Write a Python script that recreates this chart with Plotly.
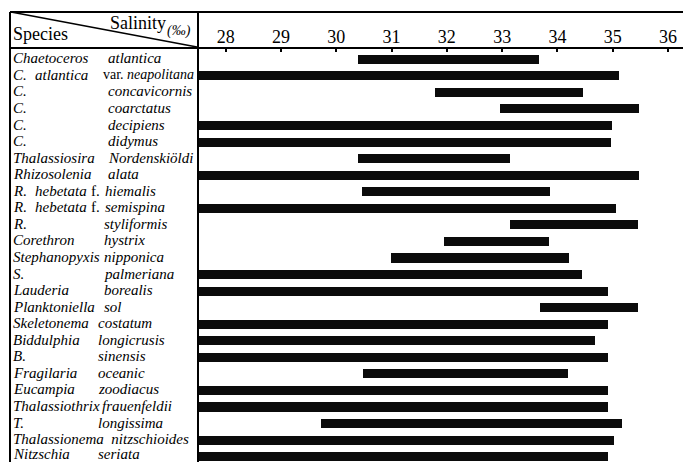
import plotly.graph_objects as go

# ---------------- data ----------------
genus = ["Chaetoceros", "C.", "C.", "C.", "C.", "C.", "Thalassiosira", "Rhizosolenia",
         "R.", "R.", "R.", "Corethron", "Stephanopyxis", "S.", "Lauderia", "Planktoniella",
         "Skeletonema", "Biddulphia", "B.", "Fragilaria", "Eucampia", "Thalassiothrix",
         "T.", "Thalassionema", "Nitzschia"]
epithet = ["atlantica", "atlantica var. neapolitana", "concavicornis", "coarctatus", "decipiens",
           "didymus", "Nordenskiöldi", "alata", "hebetata f. hiemalis", "hebetata f. semispina",
           "styliformis", "hystrix", "nipponica", "palmeriana", "borealis", "sol",
           "costatum", "longicrusis", "sinensis", "oceanic", "zoodiacus", "frauenfeldii",
           "longissima", "nitzschioides", "seriata"]
# salinity range (‰) where each species occurs; 27.5 = extends beyond left edge of scale
sal_min = [30.40, 27.5, 31.78, 32.96, 27.5, 27.5, 30.40, 27.5,
           30.46, 27.5, 33.14, 31.95, 30.99, 27.5, 27.5, 33.68,
           27.5, 27.5, 27.5, 30.48, 27.5, 27.5, 29.72, 27.5, 27.5]
sal_max = [33.66, 35.12, 34.47, 35.48, 34.99, 34.96, 33.14, 35.47,
           33.86, 35.05, 35.46, 33.85, 34.20, 34.44, 34.92, 35.46,
           34.92, 34.67, 34.92, 34.19, 34.92, 34.92, 35.17, 35.02, 34.92]
tick_vals = [28, 29, 30, 31, 32, 33, 34, 35, 36]
tick_text = ["28", "29", "30", "31", "32", "33", "34", "35", "36"]

# ---------------- layout geometry (page pixels) ----------------
W, H = 683, 462
L, T = 198, 48
PW, PH = W - L, H - T
# left edge (px) of the second text column of each row (None = one combined label)
epithet_x = [106, 33, 106, 106, 106, 106, 106, 106,
             33, 33, 102, 102, 102, 102, 102, 102,
             96, 96, 96, 96, 96, 100, 96, None, 96]


def px(x):
    return (x - L) / PW


def py(y):
    return (H - y) / PH


rows = list(range(len(genus)))

fig = go.Figure()
fig.add_trace(go.Bar(
    y=rows,
    x=[b - a for a, b in zip(sal_min, sal_max)],
    base=sal_min,
    orientation="h",
    width=0.55,
    marker=dict(color="#0b0b0b", line=dict(width=0)),
    hoverinfo="skip",
    showlegend=False,
))

serif = "Liberation Serif, Times New Roman, serif"
annotations = []
last = len(genus) - 1


def lab(x, i, text, size=15, anchor="left"):
    annotations.append(dict(x=px(x), y=i, xref="paper", yref="y", xanchor=anchor,
                            yanchor="middle", showarrow=False, text=text,
                            yshift=3 if i == last else 1,
                            font=dict(family=serif, size=size, color="black")))


for i, (g, e) in enumerate(zip(genus, epithet)):
    if epithet_x[i] is None:
        lab(11, i, "<i>" + g + "  " + e + "</i>")
        continue
    lab(11, i, "<i>" + g + "</i>")
    if " var. " in e:
        a, b = e.split(" var. ")
        lab(epithet_x[i], i, "<i>" + a + "</i>")
        lab(196, i, "var. <i>" + b + "</i>", size=14, anchor="right")
    elif " f. " in e:
        a, b = e.split(" f. ")
        lab(epithet_x[i], i, "<i>" + a + "</i>")
        lab(89, i, "f.")
        lab(103, i, "<i>" + b + "</i>")
    else:
        lab(epithet_x[i], i, "<i>" + e + "</i>")

# header texts
annotations.append(dict(x=px(11), y=py(34), xref="paper", yref="paper", xanchor="left",
                        yanchor="middle", showarrow=False, text="Species",
                        font=dict(family=serif, size=18, color="black")))
annotations.append(dict(x=px(108), y=py(23), xref="paper", yref="paper", xanchor="left",
                        yanchor="middle", showarrow=False, text="Salinity",
                        font=dict(family=serif, size=18, color="black")))
annotations.append(dict(x=px(165), y=py(31), xref="paper", yref="paper", xanchor="left",
                        yanchor="middle", showarrow=False, text="<i>(‰)</i>",
                        font=dict(family=serif, size=14, color="black")))

line = dict(color="black", width=2)
shapes = [
    dict(type="line", xref="paper", yref="paper", x0=px(10), x1=px(W), y0=py(12), y1=py(12), line=line),
    dict(type="line", xref="paper", yref="paper", x0=px(10), x1=px(W), y0=py(48), y1=py(48), line=line),
    dict(type="line", xref="paper", yref="paper", x0=px(10), x1=px(10), y0=py(12), y1=py(H + 2), line=line),
    dict(type="line", xref="paper", yref="paper", x0=px(198), x1=px(198), y0=py(12), y1=py(H + 2), line=line),
    dict(type="line", xref="paper", yref="paper", x0=px(11), x1=px(197), y0=py(12), y1=py(47),
         line=dict(color="black", width=1.6)),
]

fig.update_layout(
    width=W, height=H,
    margin=dict(l=L, r=0, t=T, b=0, pad=0),
    paper_bgcolor="white", plot_bgcolor="white",
    bargap=0,
    annotations=annotations,
    shapes=shapes,
    xaxis=dict(
        side="top", range=[27.5, 36.27], tickvals=tick_vals, ticktext=tick_text,
        ticks="inside", ticklen=4, tickwidth=1.5, tickcolor="black",
        showgrid=False, zeroline=False, showline=False,
        tickfont=dict(family=serif, size=18, color="black"),
        fixedrange=True,
    ),
    yaxis=dict(
        range=[24.32, -0.68], showticklabels=False, showgrid=False, zeroline=False,
        showline=False, ticks="", fixedrange=True,
    ),
)

fig.write_html(
    "out.html",
    config={"displayModeBar": False},
    post_script="document.body.style.margin='0';document.body.style.overflow='hidden';",
)
